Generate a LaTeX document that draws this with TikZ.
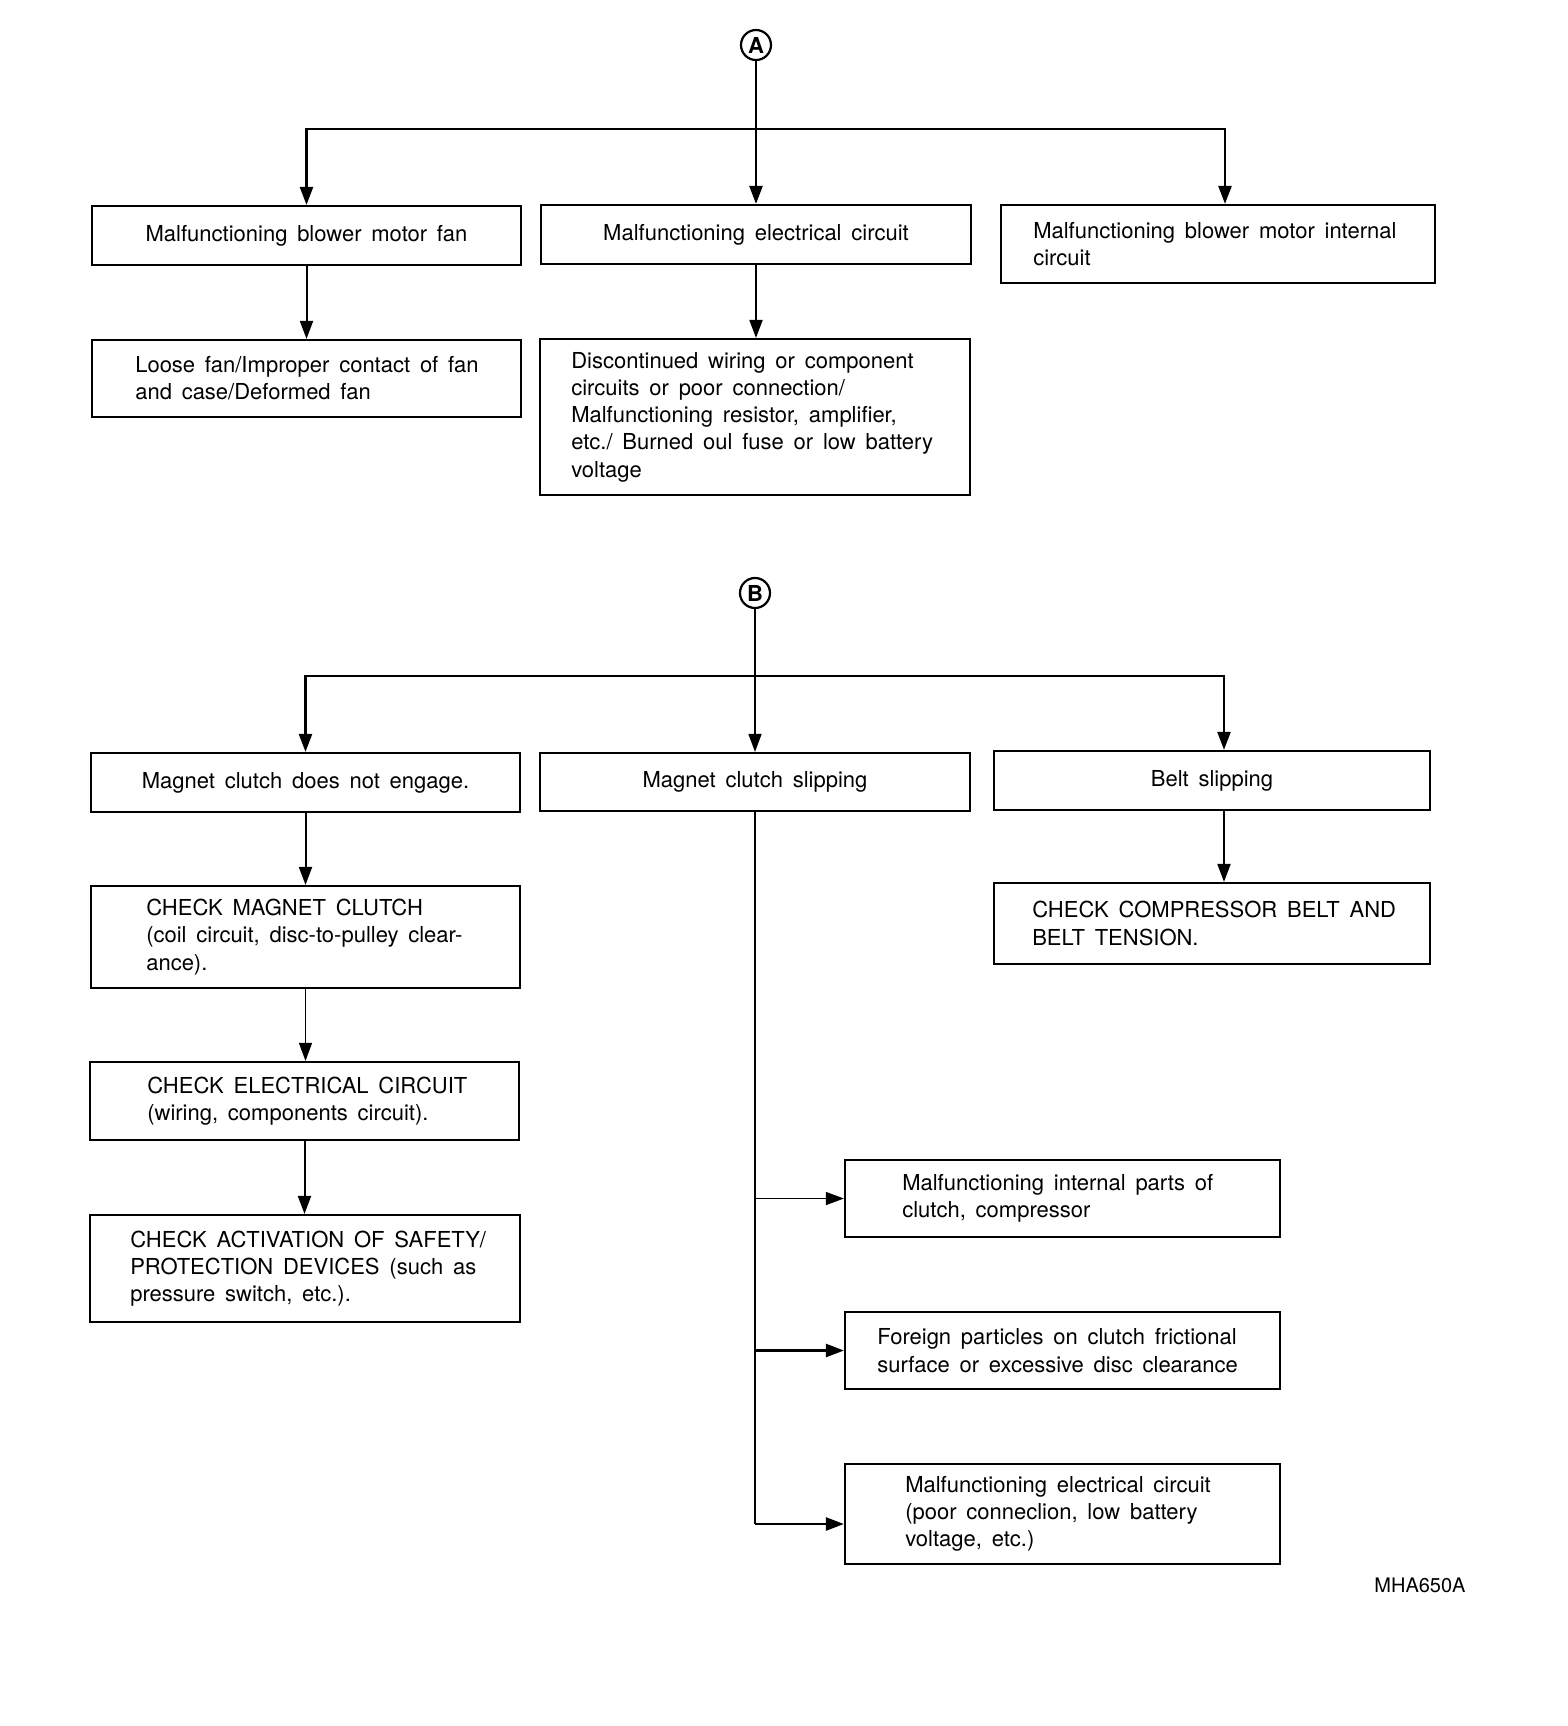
\documentclass[tikz,border=0pt]{standalone}
\usepackage{fontspec}
\setmainfont{TeX Gyre Heros}[WordSpace=1.6]
\usetikzlibrary{arrows.meta}
\begin{document}
\begin{tikzpicture}[x=0.5pt,y=-0.5pt,
  every node/.style={font=\fontsize{11}{13.6}\selectfont},
  box/.style={draw, line width=1.1pt, inner sep=0pt},
  txt/.style={anchor=west, align=left, inner sep=0pt},
  conn/.style={line width=1pt, -{Triangle[length=9pt,width=6.5pt]}},
  thinconn/.style={line width=0.6pt, -{Triangle[length=9pt,width=6.5pt]}},
  trunk/.style={line width=0.9pt},
  letter/.style={circle, draw, line width=1.1pt, minimum size=15pt, inner sep=0pt, font=\bfseries\fontsize{11}{11}\selectfont}]
\useasboundingbox (0,0) rectangle (1568,1726);

% ---------- Section A ----------
\node[letter] (ca) at (756,45) {A};
\node[box, minimum width=214.5pt, minimum height=29.5pt] (b1) at (306.5,235.5) {Malfunctioning blower motor fan};
\node[box, minimum width=215pt, minimum height=29.5pt] (b2) at (756,234.5) {Malfunctioning electrical circuit};
\node[box, minimum width=217pt, minimum height=39pt] (b3) at (1218,244) {};
\node[txt] (t3) at ([xshift=16.5pt]b3.west) {Malfunctioning blower motor internal\\circuit};
\node[box, minimum width=214.5pt, minimum height=38.5pt] (b4) at (306.5,378.5) {};
\node[txt] (t4) at ([xshift=22pt]b4.west) {Loose fan/Improper contact of fan\\and case/Deformed fan};
\node[box, minimum width=215pt, minimum height=78pt] (b5) at (755,417) {};
\node[txt] (t5) at ([xshift=16pt]b5.west) {Discontinued wiring or component\\circuits or poor connection/\\Malfunctioning resistor, amplifier,\\etc./ Burned oul fuse or low battery\\voltage};

\coordinate (jA) at (756,129);
\draw[conn, line width=1.2pt] (ca.south) -- (b2.north);
\draw[conn, line width=1.2pt] (jA) -| (b1.north);
\draw[conn, line width=1.2pt] (jA) -| ([xshift=3.5pt]b3.north);
\draw[conn] (b1.south) -- (b1.south |- b4.north);
\draw[conn] (b2.south) -- (b2.south |- b5.north);

% ---------- Section B ----------
\node[letter] (cb) at (755,593) {B};
\node[box, minimum width=214.5pt, minimum height=29.5pt] (b6) at (305.5,782.5) {Magnet clutch does not engage.};
\node[box, minimum width=215pt, minimum height=29pt] (b7) at (755,782) {Magnet clutch slipping};
\node[box, minimum width=218pt, minimum height=29.5pt] (b8) at (1212,780.5) {Belt slipping};
\node[box, minimum width=214.5pt, minimum height=51pt] (b9) at (305.5,937) {};
\node[txt] (t9) at ([xshift=28pt]b9.west) {CHECK MAGNET CLUTCH\\(coil circuit, disc-to-pulley clear-\\ance).};
\node[box, minimum width=214.5pt, minimum height=39pt] (b10) at (304.5,1101) {};
\node[txt] (t10) at ([xshift=29pt]b10.west) {CHECK ELECTRICAL CIRCUIT\\(wiring, components circuit).};
\node[box, minimum width=215pt, minimum height=53.5pt] (b11) at (305,1268.5) {};
\node[txt] (t11) at ([xshift=20.5pt]b11.west) {CHECK ACTIVATION OF SAFETY/\\PROTECTION DEVICES (such as\\pressure switch, etc.).};
\node[box, minimum width=218pt, minimum height=40.5pt] (b12) at (1212,923.5) {};
\node[txt] (t12) at ([xshift=19.5pt]b12.west) {CHECK COMPRESSOR BELT AND\\BELT TENSION.};
\node[box, minimum width=217.5pt, minimum height=38.5pt] (b13) at (1062.5,1198.5) {};
\node[txt] (t13) at ([xshift=29pt]b13.west) {Malfunctioning internal parts of\\clutch, compressor};
\node[box, minimum width=217.5pt, minimum height=38.5pt] (b14) at (1062.5,1350.5) {};
\node[txt] (t14) at ([xshift=16.5pt]b14.west) {Foreign particles on clutch frictional\\surface or excessive disc clearance};
\node[box, minimum width=217.5pt, minimum height=50pt] (b15) at (1062.5,1514) {};
\node[txt] (t15) at ([xshift=30.5pt]b15.west) {Malfunctioning electrical circuit\\(poor conneclion, low battery\\voltage, etc.)};

\coordinate (jB) at (755,676);
\coordinate (tb) at (755,1524);
\draw[conn, line width=0.8pt] (cb.south) -- (b7.north);
\draw[conn, line width=1.2pt] (jB) -| (b6.north);
\draw[conn, line width=1.2pt] (jB) -| ([xshift=6pt]b8.north);
\draw[conn] (b6.south) -- (b6.south |- b9.north);
\draw[thinconn] (b9.south) -- (b9.south |- b10.north);
\draw[conn] (b10.south) -- (b10.south |- b11.north);
\draw[conn] ([xshift=6pt]b8.south) -- ([xshift=6pt]b8.south |- b12.north);
\draw[trunk] (b7.south) -- (tb);
\draw[conn, line width=0.7pt] (b7.south |- b13.west) -- (b13.west);
\draw[conn, line width=1.2pt] (b7.south |- b14.west) -- (b14.west);
\draw[conn, line width=1.2pt] (tb) -- (tb -| b15.west);

\node[font=\fontsize{10}{12}\selectfont] (code) at (1420,1585) {MHA650A};
\end{tikzpicture}
\end{document}
